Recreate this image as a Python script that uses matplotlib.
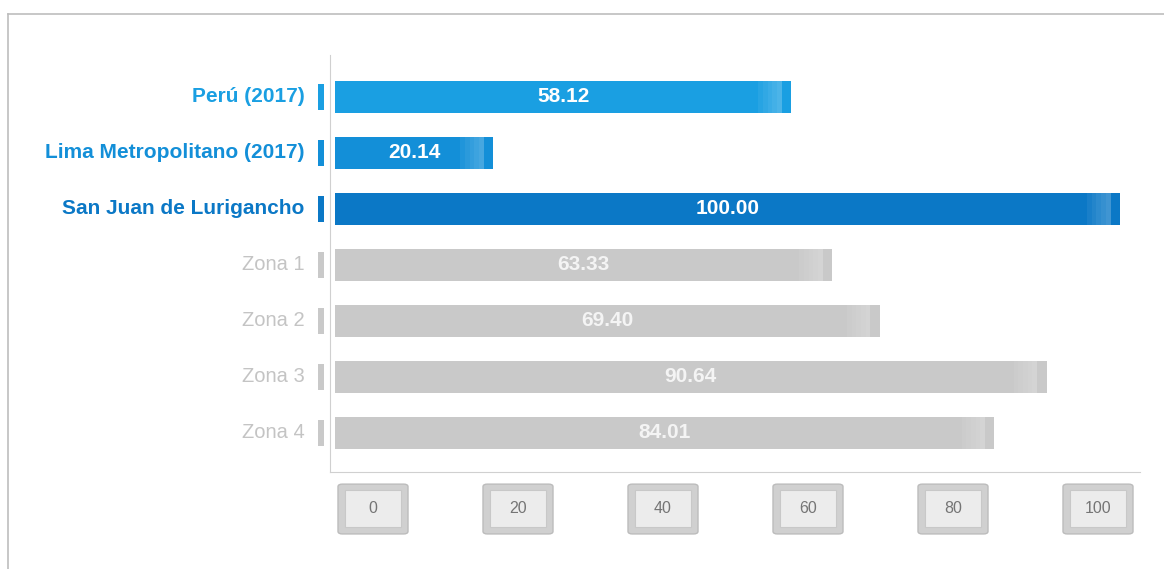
import matplotlib.pyplot as plt
from matplotlib.patches import FancyBboxPatch
from matplotlib.lines import Line2D

plt.rcParams['font.family'] = ['Liberation Sans', 'DejaVu Sans']

categorias = ['Perú (2017)', 'Lima Metropolitano (2017)', 'San Juan de Lurigancho',
              'Zona 1', 'Zona 2', 'Zona 3', 'Zona 4']
valores = [58.12, 20.14, 100.00, 63.33, 69.40, 90.64, 84.01]
colores = ['#1a9fe2', '#138fd8', '#0b78c6', '#c9c9c9', '#c9c9c9', '#c9c9c9', '#c9c9c9']
colores_txt = ['#1a9fe2', '#138fd8', '#0b78c6', '#c4c4c4', '#c4c4c4', '#c4c4c4', '#c4c4c4']
destacado = [True, True, True, False, False, False, False]
ticks = [0, 20, 40, 60, 80, 100]

W, H = 1164, 569
fig = plt.figure(figsize=(W / 100, H / 100), dpi=100)
fig.patch.set_facecolor('white')

# outer frame
fig.add_artist(Line2D([8 / W, 8 / W], [0, 1 - 14 / H], transform=fig.transFigure, color='#bdbdbd', lw=1.2))
fig.add_artist(Line2D([8 / W, 1], [1 - 14 / H, 1 - 14 / H], transform=fig.transFigure, color='#bdbdbd', lw=1.2))

# main axes: spine at x=330, bottom y=472
ax_l, ax_r, ax_t, ax_b = 330, 1140, 55, 472
ax = fig.add_axes([ax_l / W, 1 - ax_b / H, (ax_r - ax_l) / W, (ax_b - ax_t) / H])
px = 7.85  # pixels per unit, 0 at x=335
ax.set_xlim((ax_l - 335) / px, (ax_r - 335) / px)
ax.set_ylim((ax_b - 97) / 56, (ax_t - 97) / 56)
for s in ['top', 'right']:
    ax.spines[s].set_visible(False)
ax.spines['left'].set_color('#d0d0d0')
ax.spines['bottom'].set_color('#d0d0d0')
ax.set_xticks([])
ax.set_yticks([])

ys = list(range(len(categorias)))
ax.barh(ys, valores, height=0.57, color=colores, edgecolor='none')
# soft highlight near bar ends
for k, a in enumerate([0.06, 0.1, 0.14, 0.18, 0.22]):
    ax.barh(ys, [0.6] * len(ys), left=[v - 4.2 + k * 0.6 for v in valores], height=0.57,
            color='white', alpha=a, edgecolor='none')
# small markers left of the axis
ax.barh(ys, [0.7] * len(ys), left=-2.15, height=0.47, color=colores, edgecolor='none', clip_on=False)

for y, v, c, cat, ct, d in zip(ys, valores, colores, categorias, colores_txt, destacado):
    ax.text(v / 2, y, f'{v:.2f}', ha='center', va='center', color='white' if d else '#f4f4f4',
            fontsize=15, fontweight='bold')
    ax.text(-3.9, y, cat, ha='right', va='center', color=ct, fontsize=15 if d else 14.5,
            fontweight='bold' if d else 'normal', clip_on=False)

# tick boxes below
tb_t, tb_b = 482, 535
ax2 = fig.add_axes([ax_l / W, 1 - tb_b / H, (ax_r - ax_l) / W, (tb_b - tb_t) / H])
pt = 7.25
ax2.set_xlim((ax_l - 373) / pt, (ax_r - 373) / pt)
ax2.set_ylim(0, 1)
ax2.axis('off')
bw = 70 / pt
for t in ticks:
    ax2.add_patch(FancyBboxPatch((t - bw / 2, 0.02), bw, 0.94, boxstyle='round,pad=0,rounding_size=0.6',
                                 facecolor='#d0d0d0', edgecolor='#bcbcbc', lw=1, mutation_aspect=0.08))
    ax2.add_patch(FancyBboxPatch((t - bw / 2 + 0.9, 0.16), bw - 1.8, 0.68, boxstyle='square,pad=0',
                                 facecolor='#ececec', edgecolor='#c8c8c8', lw=0.8))
    ax2.text(t, 0.5, str(t), ha='center', va='center', color='#757575', fontsize=11.5)

fig.savefig('out.png', dpi=100)
